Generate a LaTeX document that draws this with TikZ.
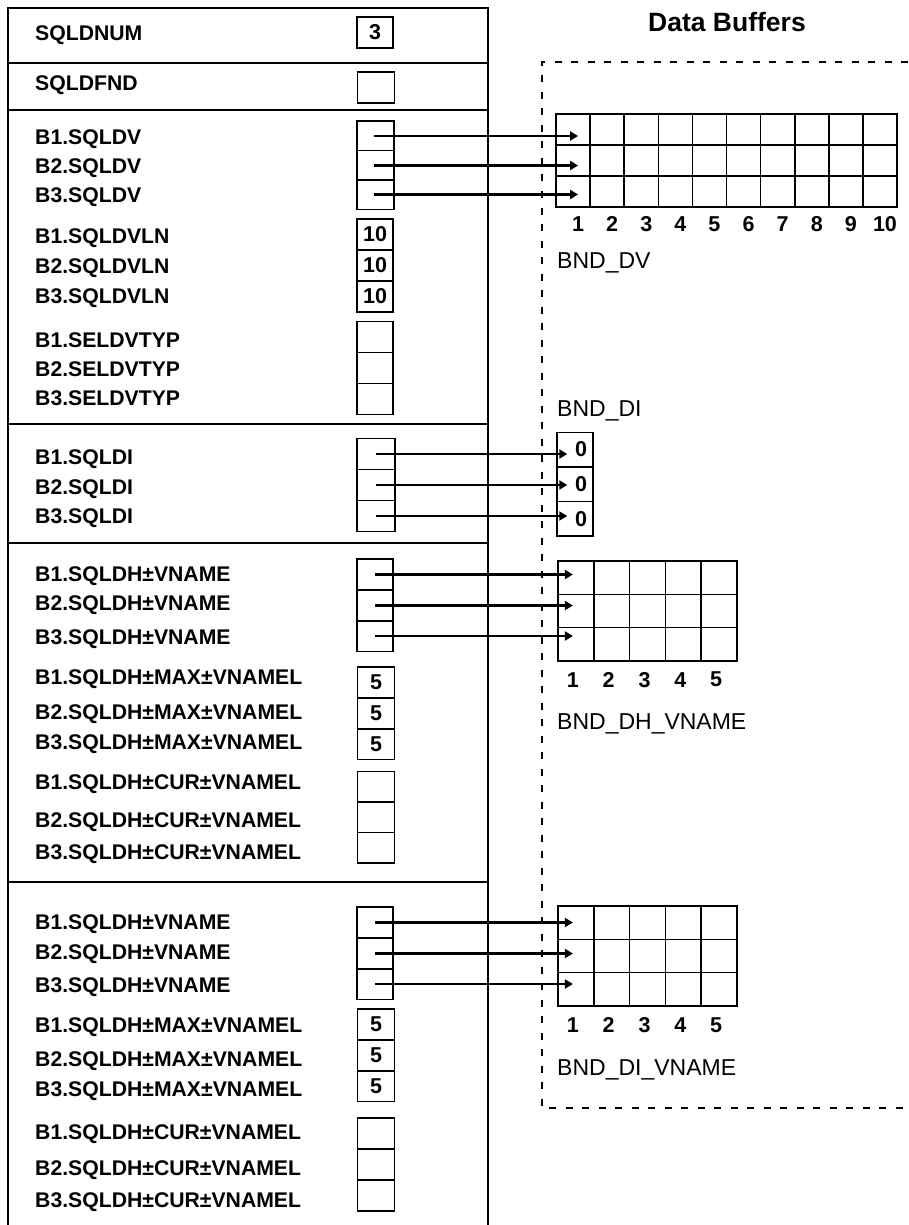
\documentclass[tikz,border=0pt]{standalone}
\usepackage{fontspec}
\setmainfont{Liberation Sans}
\usetikzlibrary{arrows.meta,positioning}

\begin{document}
\begin{tikzpicture}[x=1pt,y=-1pt]
  \tikzstyle{lbl}=[anchor=west,inner sep=0pt,text height=15pt,text depth=0pt,font=\fontsize{21.2}{24}\selectfont\bfseries]
  \tikzstyle{fld}=[draw,line width=1.5pt,minimum width=37pt,minimum height=31pt,inner sep=0pt,font=\fontsize{21.5}{24}\selectfont\bfseries]
  \tikzstyle{cell}=[draw,line width=1.6pt,inner sep=0pt]
  \tikzstyle{idx}=[inner sep=0pt,font=\fontsize{21.5}{24}\selectfont\bfseries]
  \tikzstyle{buf}=[anchor=west,inner sep=0pt,text height=16.5pt,text depth=0pt,font=\fontsize{23}{26}\selectfont]
  \tikzstyle{ptr}=[line width=2.3pt,-{Triangle[length=8pt,width=9pt]}]
  \useasboundingbox (0,0) rectangle (908,1225);

  % descriptor panel
  \draw[line width=2.2pt] (8,1225) -- (8,8) -- (488,8) -- (488,1225);
  \draw[line width=2.2pt] (8,63) -- (488,63);
  \draw[line width=2.2pt] (8,110) -- (488,110);
  \draw[line width=2.2pt] (8,424) -- (488,424);
  \draw[line width=2.2pt] (8,543) -- (488,543);
  \draw[line width=2.2pt] (8,882) -- (488,882);

  \node[lbl] (lnum) at (35,33) {SQLDNUM};
  \node[fld,minimum width=36pt] (num) at (375,32.5) {3};
  \node[lbl] (lfnd) at (35,83) {SQLDFND};
  \node[fld] (fnd) at (376,87.5) {};

  \foreach \i/\y/\b in {1/137/136,2/166/165.5,3/195/194.5}{
    \node[lbl] (ldv\i) at (35,\y) {B\i.SQLDV};
    \node[fld,minimum height=29.5pt] (dv\i) at (375.5,\b) {};
  }
  \foreach \i/\y/\b in {1/236/234.5,2/266/265.5,3/296/296.5}{
    \node[lbl] (lvln\i) at (35,\y) {B\i.SQLDVLN};
    \node[fld,minimum width=36pt] (vln\i) at (375,\b) {10};
  }
  \foreach \i/\y/\b in {1/340/337,2/369/368,3/398/399}{
    \node[lbl] (ltyp\i) at (35,\y) {B\i.SELDVTYP};
    \node[fld,minimum width=36pt] (typ\i) at (375,\b) {};
  }
  \foreach \i/\y/\b in {1/457/454,2/487/485,3/516/516}{
    \node[lbl] (ldi\i) at (35,\y) {B\i.SQLDI};
    \node[fld,minimum width=38pt] (di\i) at (376,\b) {};
  }

  % SQLDH section
  \foreach \i/\y/\b in {1/574/574.5,2/603/605.5,3/637/636}{
    \node[lbl] (ldh\i) at (35,\y) {B\i.SQLDH±VNAME};
    \node[fld,minimum width=36pt] (dh\i) at (375,\b) {};
  }
  \foreach \i/\y/\b in {1/677/682.5,2/712/713.5,3/742/744}{
    \node[lbl] (ldhmax\i) at (35,\y) {B\i.SQLDH±MAX±VNAMEL};
    \node[fld] (dhmax\i) at (376,\b) {5};
  }
  \foreach \i/\y/\b in {1/782/786.5,2/820/817,3/852/847.5}{
    \node[lbl] (ldhcur\i) at (35,\y) {B\i.SQLDH±CUR±VNAMEL};
    \node[fld,minimum height=30.5pt] (dhcur\i) at (376,\b) {};
  }

  % last section
  \foreach \i/\y/\b in {1/922/922.5,2/951.5/953.5,3/985/984}{
    \node[lbl] (livn\i) at (35,\y) {B\i.SQLDH±VNAME};
    \node[fld,minimum width=36pt] (ivn\i) at (375,\b) {};
  }
  \foreach \i/\y/\b in {1/1025/1024.5,2/1058.5/1055.5,3/1089/1086}{
    \node[lbl] (limax\i) at (35,\y) {B\i.SQLDH±MAX±VNAMEL};
    \node[fld] (imax\i) at (376,\b) {5};
  }
  \foreach \i/\y/\b in {1/1131.5/1133.5,2/1168/1164.5,3/1200/1195.5}{
    \node[lbl] (licur\i) at (35,\y) {B\i.SQLDH±CUR±VNAMEL};
    \node[fld] (icur\i) at (376,\b) {};
  }

  % data buffers
  \node[font=\fontsize{26.5}{30}\selectfont\bfseries] (title) at (727,22) {Data Buffers};
  \draw[line width=2.2pt,dash pattern=on 7pt off 9.5pt] (908,62) -- (542,62) -- (542,1108) -- (908,1108);

  \foreach \c in {1,...,10}{
    \foreach \r in {1,2,3}
      \node[cell,minimum width=34.1pt,minimum height=31pt] (bdv-\r-\c) at ({556+34.1*\c-17.05},{114+31*\r-15.5}) {};
    \node[idx] (ndv\c) at ([xshift=5pt,yshift=-16pt]bdv-3-\c.south) {\c};
  }
  \node[buf] (lbdv) at (557,260) {BND\_DV};

  \node[buf] (lbdi) at (557,408) {BND\_DI};
  \foreach \r/\y in {1/449.5,2/484.2,3/518.8}
    \node[cell,line width=1.4pt,minimum width=36pt,minimum height=34.6pt,text width=24pt,align=right,font=\fontsize{21.5}{24}\selectfont\bfseries] (bdi\r) at (575,\y) {0};

  \foreach \c in {1,...,5}{
    \foreach \r in {1,2,3}
      \node[cell,minimum width=35.8pt,minimum height=33.3pt] (bdh-\r-\c) at ({558+35.8*\c-17.9},{561+33.3*\r-16.65}) {};
    \node[idx] (ndh\c) at ([xshift=-3pt,yshift=-18pt]bdh-3-\c.south) {\c};
  }
  \node[buf] (lbdh) at (557,721) {BND\_DH\_VNAME};

  \foreach \c in {1,...,5}{
    \foreach \r in {1,2,3}
      \node[cell,minimum width=35.8pt,minimum height=33.3pt] (bin-\r-\c) at ({558+35.8*\c-17.9},{906+33.3*\r-16.65}) {};
    \node[idx] (nin\c) at ([xshift=-3pt,yshift=-18pt]bin-3-\c.south) {\c};
  }
  \node[buf] (lbin) at (557,1067) {BND\_DI\_VNAME};

  % pointers
  \foreach \i in {1,2,3}{
    \draw[ptr,shorten >=-5pt,shorten <=-2pt] (dv\i.center) -- (dv\i.center -| bdv-\i-1.center);
    \draw[ptr,shorten >=-11pt] (di\i.center) -- (di\i.center -| bdi\i.west);
    \draw[ptr,shorten >=3pt] (dh\i.center) -- (dh\i.center -| bdh-\i-1.center);
    \draw[ptr,shorten >=3pt] (ivn\i.center) -- (ivn\i.center -| bin-\i-1.center);
  }
\end{tikzpicture}
\end{document}
